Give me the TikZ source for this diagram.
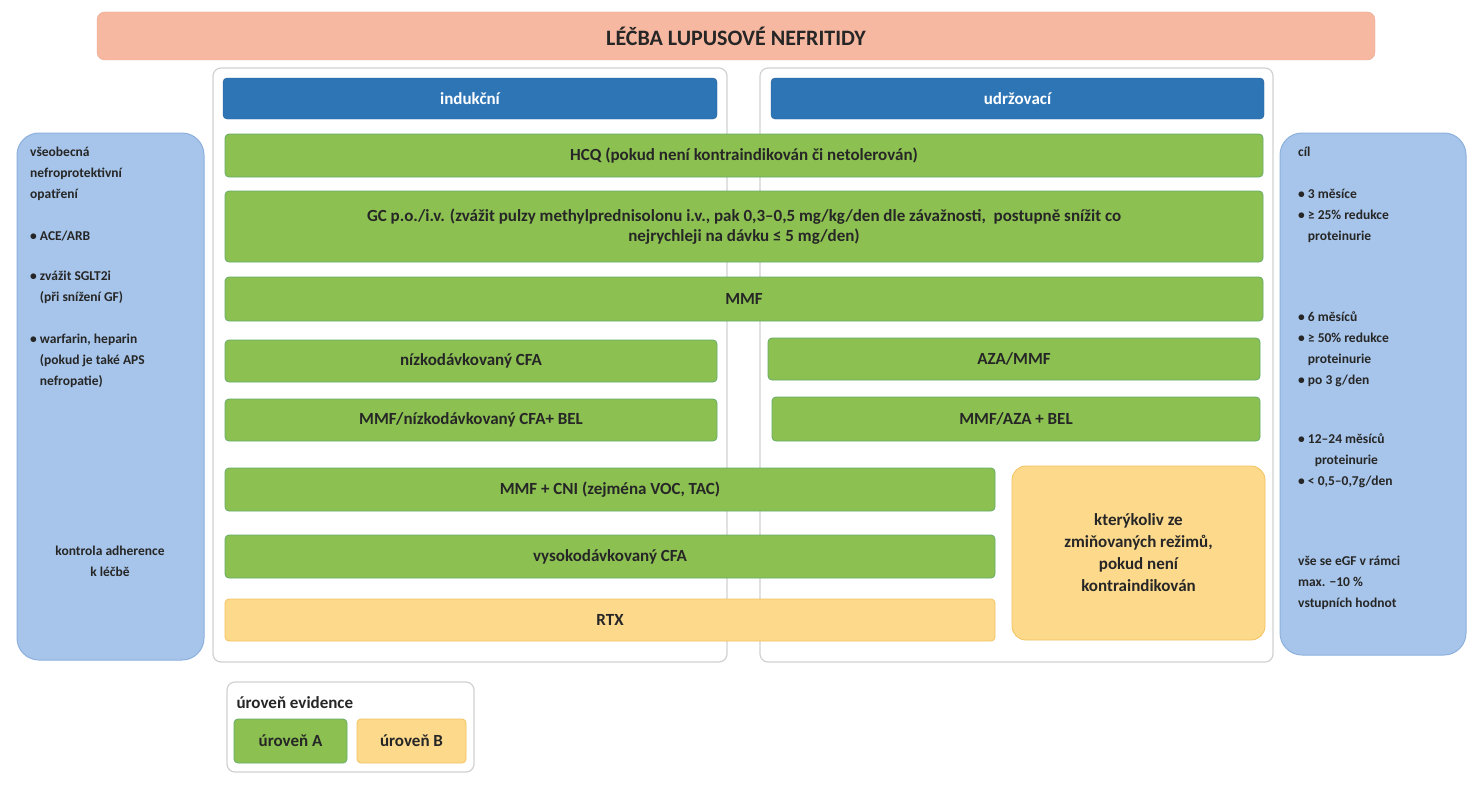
\documentclass[tikz,border=0pt]{standalone}
\usepackage{fontspec}
\setmainfont{Carlito}
\begin{document}
\begin{tikzpicture}[x=1pt,y=-1pt,
  green/.style={draw=green!45!black!60!, fill=grn, rounded corners=4pt, line width=0.8pt, font=\bfseries\fontsize{17}{20}\selectfont, text=black!85},
  orng/.style={draw=orgb, fill=org, rounded corners=4pt, line width=0.8pt, font=\bfseries\fontsize{17}{22}\selectfont, text=black!85},
  blu/.style={draw=blub, fill=blu, rounded corners=4pt, font=\bfseries\fontsize{17}{20}\selectfont, text=white},
  panel/.style={draw=black!18, fill=white, rounded corners=8pt, line width=1.2pt},
  side/.style={draw=sideb, fill=sidef, rounded corners=22pt, line width=1pt},
  st/.style={font=\bfseries\fontsize{13.5}{21}\selectfont, text=black!85, anchor=north west, align=left, inner sep=0pt}
]
\definecolor{grn}{HTML}{8CC152}
\definecolor{org}{HTML}{FDD98C}
\definecolor{orgb}{HTML}{F2C25E}
\definecolor{blu}{HTML}{2E75B6}
\definecolor{blub}{HTML}{25609A}
\definecolor{sidef}{HTML}{A7C5EA}
\definecolor{sideb}{HTML}{8DB0DC}
\definecolor{sal}{HTML}{F7B8A2}
\definecolor{salb}{HTML}{E8A48C}
\useasboundingbox (0,0) rectangle (1479,800);
\fill[white] (0,0) rectangle (1479,800);
% title
\node[draw=salb, fill=sal, rounded corners=8pt, minimum width=1278pt, minimum height=48pt, font=\bfseries\fontsize{22}{24}\selectfont, text=black!85] (title) at (736,36) {LÉČBA LUPUSOVÉ NEFRITIDY};
% panels
\node[panel, minimum width=514pt, minimum height=594pt] (pl) at (470,365) {};
\node[panel, minimum width=513pt, minimum height=594pt] (pr) at (1016.5,365) {};
\node[blu, minimum width=494pt, minimum height=41pt] (ind) at (470,98.5) {indukční};
\node[blu, minimum width=493pt, minimum height=41pt] (udr) at (1017.5,98.5) {udržovací};
% green rows
\node[green, minimum width=1038pt, minimum height=43pt] (hcq) at (744,155.5) {HCQ (pokud není kontraindikován či netolerován)};
\node[green, minimum width=1038pt, minimum height=71pt, align=center] (gc) at (744,226.5) {GC p.o./i.v. (zvážit pulzy methylprednisolonu i.v., pak 0,3–0,5 mg/kg/den dle závažnosti,\ \ postupně snížit co\\ nejrychleji na dávku ≤ 5 mg/den)};
\node[green, minimum width=1038pt, minimum height=44pt] (mmf) at (744,299) {MMF};
\node[green, minimum width=492pt, minimum height=42pt] (ncfa) at (471,361) {nízkodávkovaný CFA};
\node[green, minimum width=492pt, minimum height=42pt] (aza) at (1014,359) {AZA/MMF};
\node[green, minimum width=492pt, minimum height=42pt] (mbel) at (471,420) {MMF/nízkodávkovaný CFA+ BEL};
\node[green, minimum width=488pt, minimum height=44pt] (abel) at (1016,419) {MMF/AZA + BEL};
\node[green, minimum width=770pt, minimum height=43pt] (cni) at (610,489.5) {MMF + CNI (zejména VOC, TAC)};
\node[green, minimum width=770pt, minimum height=43pt] (vcfa) at (610,556.5) {vysokodávkovaný CFA};
\node[orng, minimum width=770pt, minimum height=42pt] (rtx) at (610,620) {RTX};
\node[orng, rounded corners=14pt, minimum width=253pt, minimum height=174pt, align=center] (any) at (1138.5,553) {kterýkoliv ze\\ zmiňovaných režimů,\\ pokud není\\ kontraindikován};
% side boxes
\node[side, minimum width=187pt, minimum height=527pt] (ls) at (110.5,396.5) {};
\node[side, minimum width=186pt, minimum height=522pt] (rs) at (1373,394) {};
\node[st] (l1) at (30,147) {všeobecná\\ nefroprotektivní\\ opatření};
\node[st] (l2) at (30,231) {• ACE/ARB};
\node[st] (l3) at (30,271) {• zvážit SGLT2i\\ \hphantom{• }(při snížení GF)};
\node[st] (l4) at (30,334) {• warfarin, heparin\\ \hphantom{• }(pokud je také APS\\ \hphantom{• }nefropatie)};
\node[st, anchor=north, align=center] (l5) at (110,546) {kontrola adherence\\ k léčbě};
\node[st] (r1) at (1298,147) {cíl};
\node[st] (r2) at (1298,189) {• 3 měsíce\\ • ≥ 25\% redukce\\ \hphantom{• }proteinurie};
\node[st] (r3) at (1298,312) {• 6 měsíců\\ • ≥ 50\% redukce\\ \hphantom{• }proteinurie\\ • po 3 g/den};
\node[st] (r4) at (1298,434) {• 12–24 měsíců\\ \hphantom{• 1}proteinurie\\ • < 0,5–0,7g/den};
\node[st] (r5) at (1298,556) {vše se eGF v rámci\\ max. −10 \%\\ vstupních hodnot};
% legend
\node[panel, minimum width=247pt, minimum height=90pt] (leg) at (350.5,727) {};
\node[font=\bfseries\fontsize{17}{20}\selectfont, text=black!85, anchor=west] (legt) at (233,703) {úroveň evidence};
\node[green, minimum width=113pt, minimum height=44pt] (la) at (290.5,741) {úroveň A};
\node[orng, minimum width=109pt, minimum height=44pt] (lb) at (411.5,741) {úroveň B};
\end{tikzpicture}
\end{document}
